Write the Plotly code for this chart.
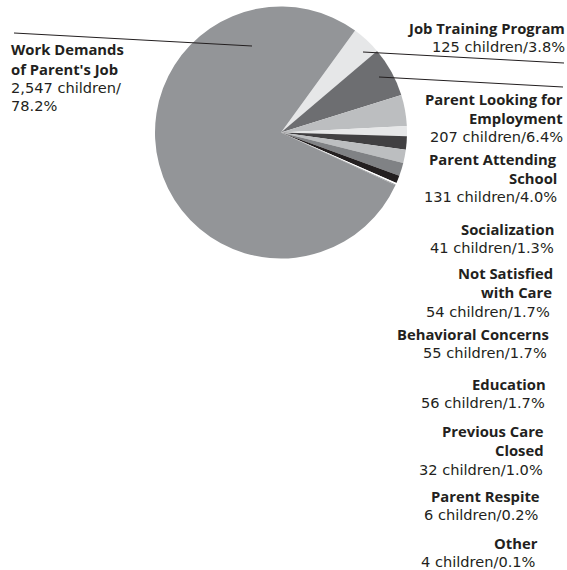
import plotly.graph_objects as go

# Reasons for care, in clockwise order starting after the largest slice
categories = [
    "Job Training Program",
    "Parent Looking for Employment",
    "Parent Attending School",
    "Socialization",
    "Not Satisfied with Care",
    "Behavioral Concerns",
    "Education",
    "Previous Care Closed",
    "Parent Respite",
    "Other",
    "Work Demands of Parent's Job",
]
children = [125, 207, 131, 41, 54, 55, 56, 32, 6, 4, 2547]
percents = [3.8, 6.4, 4.0, 1.3, 1.7, 1.7, 1.7, 1.0, 0.2, 0.1, 78.2]
slice_colors = [
    "#e6e7e8", "#6d6e71", "#bcbec0", "#e6e7e8", "#414042",
    "#bcbec0", "#808285", "#231f20", "#ffffff", "#939598", "#939598",
]

# How each category name wraps onto label lines
name_lines = [
    ["Job Training Program"],
    ["Parent Looking for", "Employment"],
    ["Parent Attending", "School"],
    ["Socialization"],
    ["Not Satisfied", "with Care"],
    ["Behavioral Concerns"],
    ["Education"],
    ["Previous Care", "Closed"],
    ["Parent Respite"],
    ["Other"],
    ["Work Demands", "of Parent's Job"],
]

W, H = 567, 570


def px(x):
    return x / W


def py(y):
    return 1 - y / H


fig = go.Figure(
    go.Pie(
        labels=categories,
        values=percents,
        sort=False,
        direction="clockwise",
        rotation=36,
        marker=dict(colors=slice_colors, line=dict(width=0)),
        textinfo="none",
        hoverinfo="label+value",
        showlegend=False,
        domain=dict(x=[px(155), px(407)], y=[py(259), py(6)]),
    )
)

BOLD_FONT = "Open Sans, Noto Sans, sans-serif"
REG_FONT = "DejaVu Sans, Verdana, sans-serif"
INK = "#231f20"

# Right-hand label blocks: (right edge x of first line, right edge of last line,
# centre y of first line) in pixels
block_layout = [
    (564, 564, 28),
    (562, 562, 99),
    (556, 556, 159),
    (553, 553, 229),
    (552, 549, 273),
    (548, 546, 334),
    (545, 544, 384),
    (543, 542, 431),
    (539, 538, 496),
    (537, 535, 543),
]
BOLD_STEP = 19.4
REG_STEP = 18.6

annotations = []


def add_line(text, x, y, bold, anchor):
    annotations.append(
        dict(
            x=px(x), y=py(y), xref="paper", yref="paper",
            xanchor=anchor, yanchor="middle", align=anchor,
            text=f"<b>{text}</b>" if bold else text,
            showarrow=False, borderpad=0, borderwidth=0,
            font=dict(family=BOLD_FONT if bold else REG_FONT,
                      size=14.8 if bold else 14.6, color=INK),
        )
    )


for i, (x_first, x_last, y_first) in enumerate(block_layout):
    lines = [(t, True) for t in name_lines[i]]
    lines.append((f"{children[i]:,} children/{percents[i]:.1f}%", False))
    n = len(lines)
    y = y_first
    for k, (t, bold) in enumerate(lines):
        frac = k / (n - 1) if n > 1 else 0
        x = x_first + (x_last - x_first) * frac
        add_line(t, x + 1, y, bold, "right")
        nxt_bold = k + 1 < n and lines[k + 1][1]
        y += BOLD_STEP if nxt_bold else REG_STEP

# Left-hand label for the largest slice
left_lines = [(t, True) for t in name_lines[10]] + [
    (f"{children[10]:,} children/", False),
    (f"{percents[10]:.1f}%", False),
]
left_y = [49, 68.5, 87, 105]
for (t, bold), y in zip(left_lines, left_y):
    add_line(t, 11, y, bold, "left")

# Leader lines from slices to their labels
leaders = [
    (14, 33, 252, 46),
    (363, 52, 564, 63),
    (379, 77, 563, 87),
]
shapes = [
    dict(type="line", xref="paper", yref="paper",
         x0=px(x0), y0=py(y0), x1=px(x1), y1=py(y1),
         line=dict(color=INK, width=1))
    for x0, y0, x1, y1 in leaders
]

fig.update_layout(
    width=W, height=H,
    margin=dict(l=0, r=0, t=0, b=0),
    paper_bgcolor="white",
    plot_bgcolor="white",
    annotations=annotations,
    shapes=shapes,
)

fig.write_html("out.html")
